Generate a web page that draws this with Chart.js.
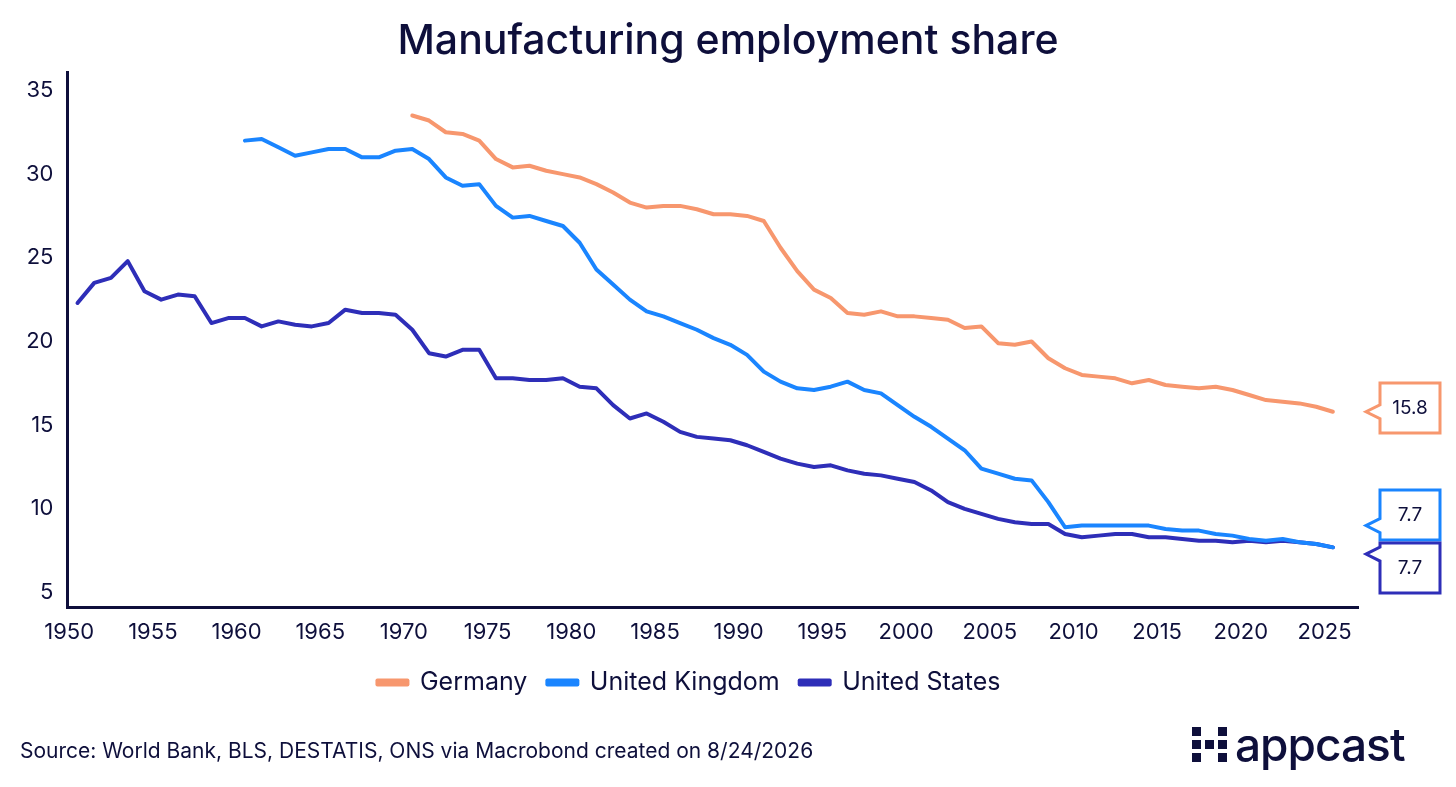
<!DOCTYPE html>
<html><head><meta charset="utf-8">
<script src="https://cdn.jsdelivr.net/npm/chart.js@4"></script>
<style>
html,body{margin:0;padding:0;background:#fff;}
#wrap{position:relative;width:1456px;height:787px;}
#title{position:absolute;left:0;width:1456px;top:14px;text-align:center;font-family:Inter,"Noto Sans",sans-serif;font-weight:500;font-size:41px;color:#0E0F3B;letter-spacing:0px;}
#src{position:absolute;left:20px;top:738px;font-family:Inter,"Noto Sans",sans-serif;font-size:21px;color:#0E0F3B;}
#logo{position:absolute;left:1192px;top:716px;display:flex;align-items:center;}
#logo .g{display:grid;grid-template-columns:repeat(3,9px);grid-gap:4px;margin-right:8px;}
#logo .g span{width:9px;height:9px;background:#0E0F3B;}
#logo .t{font-family:Inter,"Noto Sans",sans-serif;font-size:46px;font-weight:500;color:#0E0F3B;letter-spacing:-1px;}
canvas{position:absolute;left:0;top:0;}
</style></head><body>
<div id="wrap">
<canvas id="c" width="1456" height="787"></canvas>
<div id="title">Manufacturing employment share</div>
<div id="src">Source: World Bank, BLS, DESTATIS, ONS via Macrobond created on 8/24/2026</div>
<div id="logo"><div class="g"><span></span><span style="visibility:hidden"></span><span></span><span></span><span></span><span></span><span></span><span style="visibility:hidden"></span><span></span></div><div class="t">appcast</div></div>
</div>
<script>
const usYears = []; for (let y = 1950; y <= 2025; y++) usYears.push(y + 0.5);
const usValues = [22.3,23.5,23.8,24.8,23.0,22.5,22.8,22.7,21.1,21.4,21.4,20.9,21.2,21.0,20.9,21.1,21.9,21.7,21.7,21.6,
  20.7,19.3,19.1,19.5,19.5,17.8,17.8,17.7,17.7,17.8,17.3,17.2,16.2,15.4,15.7,15.2,14.6,14.3,14.2,14.1,
  13.8,13.4,13.0,12.7,12.5,12.6,12.3,12.1,12.0,11.8,11.6,11.1,10.4,10.0,9.7,9.4,9.2,9.1,9.1,8.5,
  8.3,8.4,8.5,8.5,8.3,8.3,8.2,8.1,8.1,8.0,8.1,8.0,8.1,8.0,7.9,7.7];
const ukYears = usYears.slice(10);
const ukValues = [32.0,32.1,31.6,31.1,31.3,31.5,31.5,31.0,31.0,31.4,31.5,30.9,29.8,29.3,29.4,28.1,27.4,27.5,27.2,26.9,
  25.9,24.3,23.4,22.5,21.8,21.5,21.1,20.7,20.2,19.8,19.2,18.2,17.6,17.2,17.1,17.3,17.6,17.1,16.9,16.2,
  15.5,14.9,14.2,13.5,12.4,12.1,11.8,11.7,10.4,8.9,9.0,9.0,9.0,9.0,9.0,8.8,8.7,8.7,8.5,8.4,
  8.2,8.1,8.2,8.0,7.9,7.7];
const deYears = usYears.slice(20);
const deValues = [33.5,33.2,32.5,32.4,32.0,30.9,30.4,30.5,30.2,30.0,29.8,29.4,28.9,28.3,28.0,28.1,28.1,27.9,27.6,27.6,
  27.5,27.2,25.6,24.2,23.1,22.6,21.7,21.6,21.8,21.5,21.5,21.4,21.3,20.8,20.9,19.9,19.8,20.0,19.0,18.4,
  18.0,17.9,17.8,17.5,17.7,17.4,17.3,17.2,17.3,17.1,16.8,16.5,16.4,16.3,16.1,15.8];
const seriesNames = ['Germany','United Kingdom','United States'];
const seriesColors = ['#F7976E','#1A85FF','#2E2EB8'];
const xTicks = [1950,1955,1960,1965,1970,1975,1980,1985,1990,1995,2000,2005,2010,2015,2020,2025];
const callouts = [
  {label:'15.8', y:15.8, boxY:408, color:'#F7976E'},
  {label:'7.7', y:9.0, boxY:515, color:'#1A85FF'},
  {label:'7.7', y:7.3, boxY:568, color:'#2E2EB8'}
];
const pts = (xs, ys) => xs.map((x, i) => ({x, y: ys[i]}));
const font = {family:'Inter, "Noto Sans", sans-serif', size:22};

const calloutPlugin = {
  id:'callouts',
  afterDraw(chart){
    const ctx = chart.ctx, ys = chart.scales.y;
    callouts.forEach(c => {
      const py = ys.getPixelForValue(c.y);
      const x0 = 1380, x1 = 1440, top = c.boxY - 25, bot = c.boxY + 25;
      ctx.save();
      ctx.beginPath();
      ctx.moveTo(x0, top); ctx.lineTo(x1, top); ctx.lineTo(x1, bot); ctx.lineTo(x0, bot);
      ctx.lineTo(x0, py + 7); ctx.lineTo(x0 - 14, py); ctx.lineTo(x0, py - 7); ctx.closePath();
      ctx.fillStyle = '#fff'; ctx.fill();
      ctx.strokeStyle = c.color; ctx.lineWidth = 3; ctx.stroke();
      ctx.fillStyle = '#0E0F3B'; ctx.font = '19px Inter, "Noto Sans", sans-serif';
      ctx.textAlign = 'center'; ctx.textBaseline = 'middle';
      ctx.fillText(c.label, (x0 + x1) / 2, c.boxY);
      ctx.restore();
    });
  }
};

new Chart(document.getElementById('c'), {
  type:'line',
  data:{datasets:[
    {label:seriesNames[0], data:pts(deYears, deValues), borderColor:seriesColors[0], backgroundColor:seriesColors[0]},
    {label:seriesNames[1], data:pts(ukYears, ukValues), borderColor:seriesColors[1], backgroundColor:seriesColors[1]},
    {label:seriesNames[2], data:pts(usYears, usValues), borderColor:seriesColors[2], backgroundColor:seriesColors[2]}
  ]},
  options:{
    responsive:false, animation:false,
    elements:{point:{radius:0}, line:{borderWidth:4, tension:0, borderJoinStyle:'round', borderCapStyle:'round'}},
    layout:{padding:{left:20, right:98, top:72, bottom:82}},
    plugins:{
      legend:{position:'bottom', labels:{font:{...font, size:25}, color:'#0E0F3B', boxWidth:30, boxHeight:4, padding:20}},
      tooltip:{enabled:false}
    },
    scales:{
      x:{type:'linear', min:1949.9, max:2027,
        afterBuildTicks(s){ s.ticks = xTicks.map(v => ({value:v})); },
        grid:{display:false, drawTicks:true, tickLength:8, tickColor:'#0E0F3B'},
        border:{color:'#0E0F3B', width:3},
        ticks:{font, color:'#0E0F3B', padding:4, maxRotation:0, autoSkip:false, callback:v => v}},
      y:{min:4.1, max:36.1,
        afterBuildTicks(s){ s.ticks = [5,10,15,20,25,30,35].map(v => ({value:v})); },
        grid:{display:false, tickLength:8, tickColor:'#0E0F3B'},
        border:{color:'#0E0F3B', width:3},
        ticks:{font, color:'#0E0F3B', padding:6}}
    }
  },
  plugins:[calloutPlugin]
});
</script>
</body></html>
